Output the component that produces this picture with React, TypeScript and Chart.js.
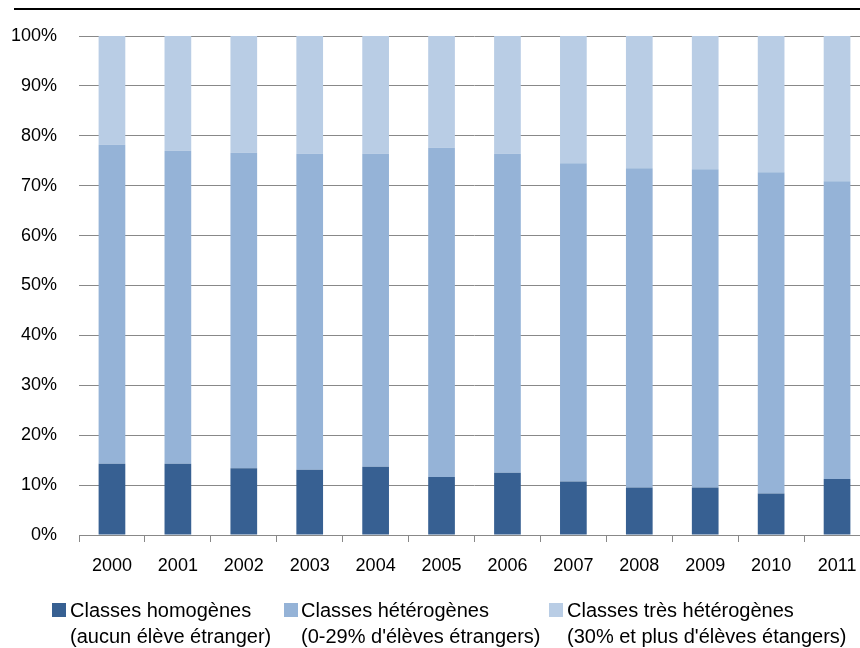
import React, { useEffect, useRef } from "react";
import { Chart, registerables } from "chart.js";

Chart.register(...registerables);

const years = ["2000", "2001", "2002", "2003", "2004", "2005", "2006", "2007", "2008", "2009", "2010", "2011"];
const homogenes = [14.3, 14.3, 13.4, 13.1, 13.7, 11.6, 12.5, 10.7, 9.5, 9.5, 8.3, 11.2];
const heterogenes = [63.9, 62.7, 63.2, 63.3, 62.7, 66.0, 63.9, 63.8, 64.0, 63.8, 64.4, 59.7];
const tresHeterogenes = [21.8, 23.0, 23.4, 23.6, 23.6, 22.4, 23.6, 25.5, 26.5, 26.7, 27.3, 29.1];
const legendLine1 = ["Classes homogènes", "Classes hétérogènes", "Classes très hétérogènes"];
const legendLine2 = ["(aucun élève étranger)", "(0-29% d'élèves étrangers)", "(30% et plus d'élèves étangers)"];
const colors = ["#376092", "#95B3D7", "#B9CDE5"];

const FONT = "'Liberation Sans', Arial, sans-serif";

const extrasPlugin = {
  id: "extras",
  afterDraw(chart: any) {
    const ctx = chart.ctx;
    ctx.save();
    // top black rule
    ctx.strokeStyle = "#000";
    ctx.lineWidth = 2;
    ctx.beginPath();
    ctx.moveTo(14, 9);
    ctx.lineTo(chart.width, 9);
    ctx.stroke();
    // custom two-line legend
    const squareX = [52, 284, 549];
    const textX = [70, 301, 567];
    ctx.font = `20px ${FONT}`;
    ctx.textBaseline = "alphabetic";
    ctx.textAlign = "left";
    chart.data.datasets.forEach((ds: any, i: number) => {
      ctx.fillStyle = ds.backgroundColor;
      ctx.fillRect(squareX[i], 603, 14, 14);
      ctx.fillStyle = "#000";
      ctx.fillText(legendLine1[i], textX[i], 617);
      ctx.fillText(legendLine2[i], textX[i], 643);
    });
    ctx.restore();
  },
};

export default function App() {
  const ref = useRef<HTMLCanvasElement | null>(null);
  useEffect(() => {
    if (!ref.current) return;
    const chart = new Chart(ref.current, {
      type: "bar",
      data: {
        labels: years,
        datasets: [
          { label: legendLine1[0], data: homogenes, backgroundColor: colors[0] },
          { label: legendLine1[1], data: heterogenes, backgroundColor: colors[1] },
          { label: legendLine1[2], data: tresHeterogenes, backgroundColor: colors[2] },
        ],
      },
      options: {
        responsive: false,
        animation: false,
        layout: { padding: { top: 36, right: 0, bottom: 0, left: 0 } },
        datasets: { bar: { categoryPercentage: 1, barPercentage: 0.405, borderWidth: 0 } },
        plugins: { legend: { display: false }, tooltip: { enabled: false } },
        scales: {
          x: {
            stacked: true,
            offset: true,
            grid: { display: true, drawOnChartArea: false, drawTicks: true, tickLength: 7, color: "#888888", offset: true },
            border: { display: true, color: "#888888", width: 1 },
            ticks: { color: "#000", font: { family: FONT, size: 18 }, padding: 13, maxRotation: 0 },
            afterFit: (scale: any) => { scale.height = 113; },
          },
          y: {
            stacked: true,
            min: 0,
            max: 100,
            grid: { color: "#888888", drawTicks: false, lineWidth: 1 },
            border: { display: false },
            ticks: {
              stepSize: 10,
              color: "#000",
              padding: 22,
              font: { family: FONT, size: 18 },
              callback: (v: any) => `${v}%`,
            },
            afterFit: (scale: any) => { scale.width = 79; },
          },
        },
      },
      plugins: [extrasPlugin],
    });
    return () => chart.destroy();
  }, []);
  return (
    <div style={{ position: "absolute", left: 0, top: 0, width: 860, height: 648, overflow: "hidden", background: "#fff" }}>
      <canvas ref={ref} width={870} height={648} style={{ display: "block" }} />
    </div>
  );
}
